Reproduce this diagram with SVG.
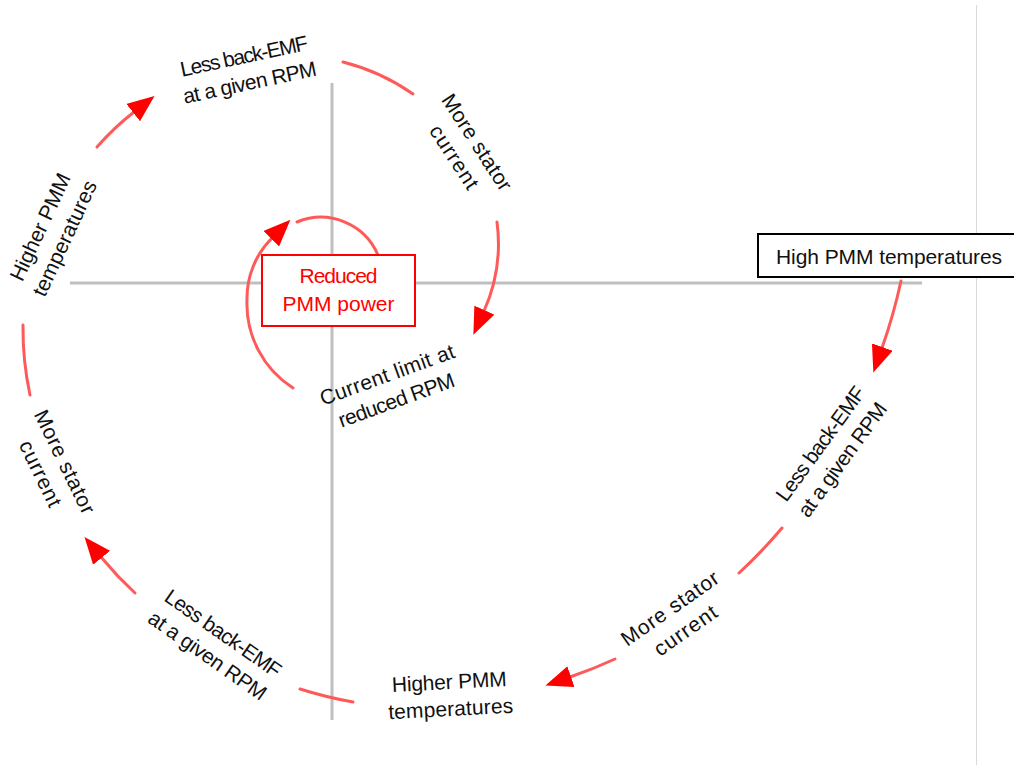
<svg xmlns="http://www.w3.org/2000/svg" width="1014" height="767" viewBox="0 0 1014 767">
<style>
.t{font-family:"Liberation Sans",Arial,sans-serif;font-size:21px;fill:#111;text-anchor:middle}
.r{fill:#ff0000}
.c{fill:none;stroke:#ff5a5a;stroke-width:3;stroke-linecap:round}
.ax{stroke:#bfbfbf;stroke-width:3;fill:none}
</style>
<defs>
<marker id="ah" markerWidth="28" markerHeight="22" refX="1" refY="11" orient="auto" markerUnits="userSpaceOnUse">
<path d="M0,0 L27,11 L0,22 z" fill="#ff0000"/>
</marker>
</defs>
<rect width="1014" height="767" fill="#fff"/>
<g id="axes">
<line x1="976.5" y1="5" x2="976.5" y2="765" stroke="#d9d9d9" stroke-width="1"/>
<line class="ax" x1="70" y1="283" x2="922" y2="283"/>
<line class="ax" x1="332" y1="83" x2="332" y2="720"/>
</g>
<g id="connectors">
<path class="c" d="M901,281 A555,555 0 0 1 882,348" marker-end="url(#ah)"/>
<path class="c" d="M782,528 A510,510 0 0 1 739,573"/>
<path class="c" d="M615,659 A465,465 0 0 1 570,677" marker-end="url(#ah)"/>
<path class="c" d="M353,702 A415,415 0 0 1 300,689"/>
<path class="c" d="M135,593 A360,360 0 0 1 101,557" marker-end="url(#ah)"/>
<path class="c" d="M30,395 A315,315 0 0 1 23,325"/>
<path class="c" d="M97,147 A265,265 0 0 1 134,112" marker-end="url(#ah)"/>
<path class="c" d="M343,62 A213,213 0 0 1 413,94"/>
<path class="c" d="M497,222 A165,165 0 0 1 484,311" marker-end="url(#ah)"/>
<path class="c" d="M293,388 A100,100 0 0 1 247,300 A85,85 0 0 1 272,238" marker-end="url(#ah)"/>
<path class="c" d="M297,222 A62,62 0 0 1 378,255"/>
</g>
<g id="n-high">
<rect x="758" y="234" width="262" height="43" fill="#fff" stroke="#000" stroke-width="2"/>
<text class="t" x="776" y="264" style="text-anchor:start" textLength="226">High PMM temperatures</text>
</g>
<g id="n-reduced">
<rect x="262" y="255" width="153" height="71" fill="#fff" stroke="#ff0000" stroke-width="2"/>
<text class="t r" x="338.5" y="283" textLength="78">Reduced</text>
<text class="t r" x="338.5" y="311" textLength="112">PMM power</text>
</g>
<g id="n-r-backemf" transform="translate(832,452) rotate(-54)">
<text class="t"><tspan x="0" y="-7" textLength="136">Less back-EMF</tspan><tspan x="0" y="20" textLength="136">at a given RPM</tspan></text>
</g>
<g id="n-br-stator" transform="translate(678,620) rotate(-35)">
<text class="t"><tspan x="0" y="-7" textLength="114">More stator</tspan><tspan x="0" y="20" textLength="72">current</tspan></text>
</g>
<g id="n-b-higher" transform="translate(450,696) rotate(-3)">
<text class="t"><tspan x="0" y="-7" textLength="115">Higher PMM</tspan><tspan x="0" y="20" textLength="125">temperatures</tspan></text>
</g>
<g id="n-bl-backemf" transform="translate(215,645) rotate(35)">
<text class="t"><tspan x="0" y="-7" textLength="137">Less back-EMF</tspan><tspan x="0" y="20" textLength="139">at a given RPM</tspan></text>
</g>
<g id="n-l-stator" transform="translate(52,468) rotate(64)">
<text class="t"><tspan x="0" y="-7" textLength="113">More stator</tspan><tspan x="0" y="20" textLength="71">current</tspan></text>
</g>
<g id="n-l-higher" transform="translate(53,233) rotate(-65)">
<text class="t"><tspan x="0" y="-7" textLength="116">Higher PMM</tspan><tspan x="0" y="20" textLength="125">temperatures</tspan></text>
</g>
<g id="n-t-backemf" transform="translate(247,70) rotate(-12)">
<text class="t"><tspan x="0" y="-7" textLength="130">Less back-EMF</tspan><tspan x="0" y="20" textLength="136">at a given RPM</tspan></text>
</g>
<g id="n-tr-stator" transform="translate(465,150) rotate(57)">
<text class="t"><tspan x="0" y="-7" textLength="111">More stator</tspan><tspan x="0" y="20" textLength="72">current</tspan></text>
</g>
<g id="n-current-limit" transform="translate(392,388) rotate(-20)">
<text class="t"><tspan x="0" y="-7" textLength="142">Current limit at</tspan><tspan x="0" y="20" textLength="122">reduced RPM</tspan></text>
</g>
</svg>
